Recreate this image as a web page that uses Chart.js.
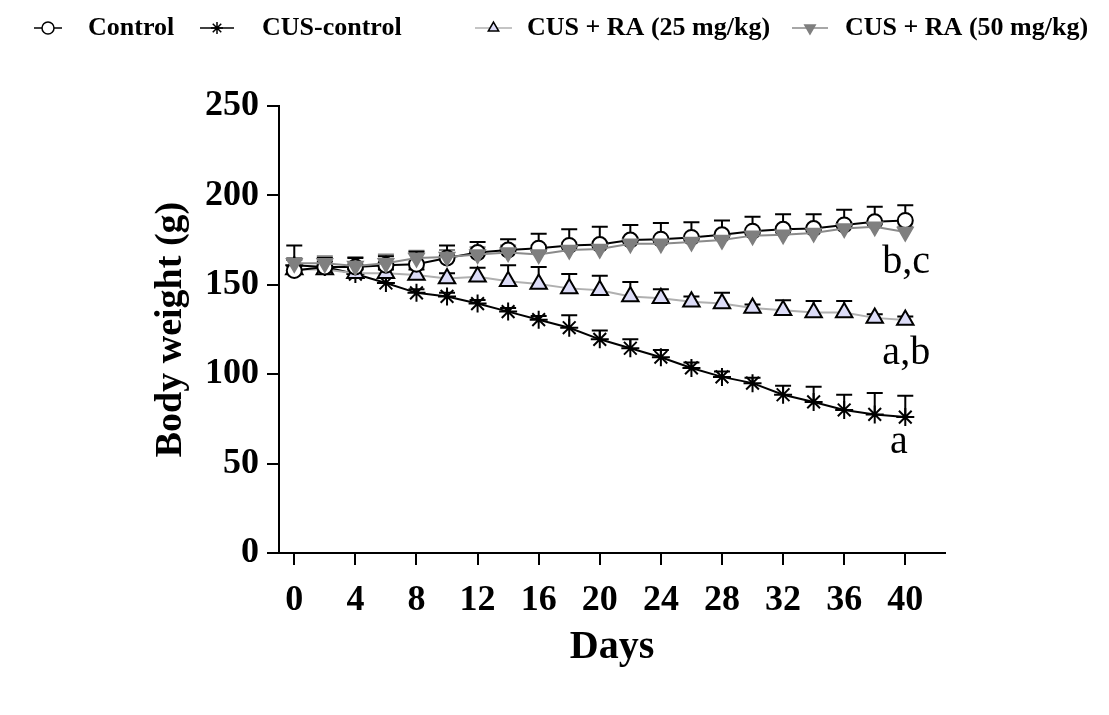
<!DOCTYPE html>
<html>
<head>
<meta charset="utf-8">
<script src="https://cdn.jsdelivr.net/npm/chart.js@4.4.1/dist/chart.umd.min.js"></script>
<style>
  body { margin: 0; background: #fff; }
</style>
</head>
<body>
<canvas id="chart" width="1109" height="715"></canvas>
<script>
// days of measurement
const days = [0, 2, 4, 6, 8, 10, 12, 14, 16, 18, 20, 22, 24, 26, 28, 30, 32, 34, 36, 38, 40];
const xTicks = [0, 4, 8, 12, 16, 20, 24, 28, 32, 36, 40];
const yTicks = [0, 50, 100, 150, 200, 250];

const seriesNames = ['Control', 'CUS-control', 'CUS + RA (25 mg/kg)', 'CUS + RA (50 mg/kg)'];

// body weight (g), mean and upper error
const control    = [158, 160, 160, 161, 161.5, 165, 168, 169.5, 170.5, 172, 172.5, 175, 175.5, 176.5, 178, 180, 181, 181.5, 183.5, 185.2, 186];
const controlErr = [6, 5, 5, 5, 7, 7, 6, 6, 8, 9, 10, 8.5, 9, 8.5, 8, 8, 8.5, 8, 8.5, 8.5, 8.5];

const cus    = [161, 160, 156, 151, 145.5, 143.5, 139.5, 135, 130.5, 126, 119.5, 114.5, 109.5, 103.5, 98.5, 95, 88.5, 84.5, 80, 77.5, 76];
const cusErr = [11, 3, 3, 3, 2, 2, 2, 2, 2, 7, 5, 5, 4, 3, 3, 3, 5, 8.5, 8.5, 12, 12];

const ra25    = [158.5, 158.5, 156.5, 156.5, 155.5, 153.5, 154.5, 152, 150.5, 148, 147, 143.5, 142.5, 140.5, 139.5, 137, 135.8, 134.5, 134.5, 131.5, 130.3];
const ra25Err = [2, 2, 2, 2, 3, 3, 5, 9, 9.5, 8, 8, 8, 5, 3, 6, 2, 5.5, 6.5, 6.5, 2, 2];

const ra50    = [162, 162, 160.5, 162, 165, 165.5, 167, 168, 167, 169.5, 170, 173, 173, 174, 175, 177.5, 178, 179, 181.5, 182.5, 179.5];
const ra50Err = [3, 4, 5, 5, 4, 4, 4, 4, 5, 4, 4, 3, 3, 3, 3, 3, 3, 3, 3, 3, 3];

// significance letters, placed in data units
const sigLabels = ['b,c', 'a,b', 'a'];
const sigX = [38.5, 38.5, 39];
const sigY = [156.5, 105.5, 56];

const pts = (arr) => arr.map((v, i) => ({ x: days[i], y: v }));

const errorBars = {
  id: 'errorBars',
  beforeDatasetsDraw(chart) {
    const ctx = chart.ctx;
    const xs = chart.scales.x, ys = chart.scales.y;
    chart.data.datasets.forEach((ds) => {
      ctx.save();
      ctx.strokeStyle = ds.errColor;
      ctx.lineWidth = 2;
      ds.data.forEach((p, j) => {
        const px = xs.getPixelForValue(p.x);
        const py = ys.getPixelForValue(p.y);
        const pt = ys.getPixelForValue(p.y + ds.err[j]);
        ctx.beginPath();
        ctx.moveTo(px, py);
        ctx.lineTo(px, pt);
        ctx.moveTo(px - 8, pt);
        ctx.lineTo(px + 8, pt);
        ctx.stroke();
      });
      ctx.restore();
    });
  }
};

const sigText = {
  id: 'sigText',
  afterDatasetsDraw(chart) {
    const ctx = chart.ctx;
    const xs = chart.scales.x, ys = chart.scales.y;
    ctx.save();
    ctx.fillStyle = '#000';
    ctx.font = '40px "Liberation Serif"';
    ctx.textAlign = 'left';
    ctx.textBaseline = 'alphabetic';
    sigLabels.forEach((t, i) => {
      ctx.fillText(t, xs.getPixelForValue(sigX[i]), ys.getPixelForValue(sigY[i]));
    });
    ctx.restore();
  }
};

// legend across the top, line + marker + label
const topLegend = {
  id: 'topLegend',
  afterDraw(chart) {
    const ctx = chart.ctx;
    const y = 28;
    const spots = [
      { x0: 34, x1: 62, tx: 88 },
      { x0: 200, x1: 234, tx: 262 },
      { x0: 475, x1: 512, tx: 527 },
      { x0: 792, x1: 828, tx: 845 }
    ];
    const order = [1, 3, 2, 0]; // dataset index for each legend entry
    spots.forEach((s, i) => {
      const ds = chart.data.datasets[order[i]];
      ctx.save();
      ctx.strokeStyle = ds.borderColor;
      ctx.lineWidth = 1.5;
      ctx.beginPath();
      ctx.moveTo(s.x0, y);
      ctx.lineTo(s.x1, y);
      ctx.stroke();
      ctx.fillStyle = ds.pointBackgroundColor;
      ctx.strokeStyle = ds.pointBorderColor;
      ctx.lineWidth = 1.5;
      Chart.helpers.drawPoint(ctx, {
        pointStyle: ds.pointStyle,
        rotation: ds.pointRotation || 0,
        radius: 6,
        borderWidth: 1.5
      }, (s.x0 + s.x1) / 2, y);
      ctx.fillStyle = '#000';
      ctx.font = 'bold 26px "Liberation Serif"';
      ctx.textAlign = 'left';
      ctx.textBaseline = 'middle';
      ctx.fillText(ds.label, s.tx, y);
      ctx.restore();
    });
  }
};

const ctx = document.getElementById('chart').getContext('2d');
const myChart = new Chart(ctx, {
  type: 'line',
  data: {
    datasets: [
      {
        label: seriesNames[3],
        data: pts(ra50),
        err: ra50Err,
        errColor: '#808080',
        borderColor: '#8a8a8a',
        borderWidth: 2,
        pointStyle: 'triangle',
        pointRotation: 180,
        pointRadius: 9,
        pointBackgroundColor: '#7f7f7f',
        pointBorderColor: '#7f7f7f',
        pointBorderWidth: 1.5,
        order: 0
      },
      {
        label: seriesNames[0],
        data: pts(control),
        err: controlErr,
        errColor: '#000',
        borderColor: '#000',
        borderWidth: 2,
        pointStyle: 'circle',
        pointRadius: 7.5,
        pointBackgroundColor: '#fff',
        pointBorderColor: '#000',
        pointBorderWidth: 2,
        order: 1
      },
      {
        label: seriesNames[2],
        data: pts(ra25),
        err: ra25Err,
        errColor: '#000',
        borderColor: '#b0b0b0',
        borderWidth: 2,
        pointStyle: 'triangle',
        pointRadius: 9.5,
        pointBackgroundColor: '#dcdcf7',
        pointBorderColor: '#000',
        pointBorderWidth: 2,
        order: 2
      },
      {
        label: seriesNames[1],
        data: pts(cus),
        err: cusErr,
        errColor: '#000',
        borderColor: '#000',
        borderWidth: 2,
        pointStyle: 'star',
        pointRadius: 9,
        pointBackgroundColor: '#000',
        pointBorderColor: '#000',
        pointBorderWidth: 2,
        order: 3
      }
    ]
  },
  options: {
    responsive: false,
    animation: false,
    layout: { padding: { top: 106, right: 164, left: 0, bottom: 0 } },
    plugins: {
      legend: { display: false },
      tooltip: { enabled: false }
    },
    scales: {
      x: {
        type: 'linear',
        min: -1,
        max: 42.6,
        afterFit: (s) => { s.height = 162; },
        afterBuildTicks: (s) => { s.ticks = xTicks.map(v => ({ value: v })); },
        grid: { drawOnChartArea: false, drawTicks: true, tickLength: 12, color: '#000', lineWidth: 2 },
        border: { color: '#000', width: 2 },
        ticks: {
          color: '#000',
          padding: 14,
          maxRotation: 0,
          font: { family: '"Liberation Serif"', size: 36, weight: 'bold' }
        },
        title: {
          display: true,
          text: 'Days',
          color: '#000',
          padding: { bottom: 43 },
          font: { family: '"Liberation Serif"', size: 40, weight: 'bold' }
        }
      },
      y: {
        min: 0,
        max: 250,
        afterFit: (s) => { s.width = 279; },
        afterBuildTicks: (s) => { s.ticks = yTicks.map(v => ({ value: v })); },
        grid: { drawOnChartArea: false, drawTicks: true, tickLength: 12, color: '#000', lineWidth: 2 },
        border: { color: '#000', width: 2 },
        ticks: {
          color: '#000',
          padding: 8,
          font: { family: '"Liberation Serif"', size: 36, weight: 'bold' }
        },
        title: {
          display: true,
          text: 'Body weight (g)',
          color: '#000',
          padding: { top: 148 },
          font: { family: '"Liberation Serif"', size: 38, weight: 'bold' }
        }
      }
    }
  },
  plugins: [errorBars, sigText, topLegend]
});
</script>
</body>
</html>
